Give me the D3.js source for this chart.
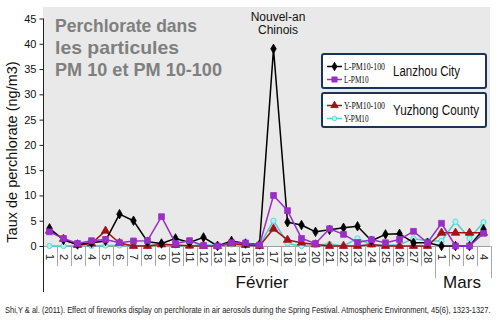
<!DOCTYPE html>
<html>
<head>
<meta charset="utf-8">
<script src="https://cdn.jsdelivr.net/npm/d3@7"></script>
<style>
  html, body { margin: 0; padding: 0; background: #fff; }
  svg { display: block; font-family: "Liberation Sans", Arial, sans-serif; }
</style>
</head>
<body>
<svg id="chart" width="500" height="326"></svg>
<script>
// Day labels along the horizontal axis (February 1-28, then March 1-4)
const dayLabels = ["1","2","3","4","5","6","7","8","9","10","11","12","13","14","15","16","17","18","19","20","21","22","23","24","25","26","27","28","1","2","3","4"];
const monthNames = ["Février", "Mars"];
const monthLengths = [28, 4];

// Perchlorate concentrations (ng/m3)
const lanzhouPM10_100 = [3.5,1.2,0.3,0.65,1.0,6.3,5.0,0.85,0.5,1.5,0.7,1.7,0.0,1.0,0.5,0.3,39.0,4.7,4.15,2.8,3.2,3.6,3.9,1.05,2.3,2.4,0.65,0.65,0.0,0.0,0.0,3.3];
const lanzhouPM10     = [2.8,1.5,0.5,1.05,1.3,0.65,1.0,1.05,5.8,0.5,1.05,0.1,0.0,0.65,0.6,0.2,10.0,7.0,1.5,0.5,3.4,2.3,0.7,1.25,0.65,1.3,2.9,0.65,4.5,0.0,0.0,2.5];
const yuzhongPM10_100 = [3.0,1.4,0.2,0.5,3.0,0.6,0.0,0.0,0.3,0.2,0.05,0.0,0.0,0.5,0.2,0.0,3.4,1.2,0.65,0.3,0.0,0.0,0.0,0.3,0.0,0.0,0.0,0.0,2.6,2.6,2.6,2.6];
const yuzhongPM10     = [0.0,0.0,0.1,0.0,0.1,0.1,0.1,0.0,0.5,0.1,0.0,0.3,0.0,0.3,0.1,0.1,5.0,0.5,0.0,0.2,0.4,0.0,1.5,0.2,0.2,0.2,1.5,1.0,1.0,4.8,1.5,4.7];

const yTicks = [0,5,10,15,20,25,30,35,40,45];

const series = [
  { name: "Y-PM10",     values: yuzhongPM10,     color: "#4fcfcf", fill: "#aef2f2", symbol: d3.symbolCircle,   size: 22 },
  { name: "Y-PM10-100", values: yuzhongPM10_100, color: "#a50f15", fill: "#a50f15", symbol: d3.symbolTriangle, size: 30 },
  { name: "L-PM10-100", values: lanzhouPM10_100, color: "#000000", fill: "#000000", symbol: d3.symbolDiamond,  size: 26 },
  { name: "L-PM10",     values: lanzhouPM10,     color: "#9a2ec8", fill: "#9a2ec8", symbol: d3.symbolSquare,   size: 34 }
];
const byName = Object.fromEntries(series.map(s => [s.name, s]));

const svg = d3.select("#chart");

const x = d3.scaleBand().domain(d3.range(dayLabels.length)).range([42.5, 490.5]).padding(0);
const y = d3.scaleLinear().domain([0, 45]).range([246, 18.5]);
const cx = i => x(i) + x.bandwidth() / 2;

// Plot background
svg.append("rect")
  .attr("x", 43).attr("y", 7).attr("width", 447).attr("height", 239)
  .attr("fill", "#e9e9e9");

// Zero baseline
svg.append("line")
  .attr("x1", 43.5).attr("x2", 490.5).attr("y1", y(0) + 0.5).attr("y2", y(0) + 0.5)
  .attr("stroke", "#a0a0a0").attr("stroke-width", 1);

// Category separators
const sepG = svg.append("g").attr("stroke", "#a8a8a8").attr("stroke-width", 1);
let boundary = 0;
const monthEnds = monthLengths.map(n => (boundary += n));
d3.range(1, dayLabels.length + 1).forEach(i => {
  const xx = Math.round(x(i - 1) + x.bandwidth()) + 0.5;
  const long = monthEnds.includes(i);
  sepG.append("line")
    .attr("x1", xx).attr("x2", xx)
    .attr("y1", y(0)).attr("y2", long ? 278 : 266);
});

// Day labels, rotated
svg.append("g").selectAll("text")
  .data(dayLabels)
  .join("text")
  .attr("transform", (d, i) => `translate(${cx(i)},257) rotate(90)`)
  .attr("text-anchor", "middle")
  .attr("dominant-baseline", "central")
  .attr("font-size", 11)
  .attr("fill", "#222")
  .text(d => d);

// Month labels
const monthCenters = [262, 462];
svg.append("g").selectAll("text")
  .data(monthNames)
  .join("text")
  .attr("x", (d, i) => monthCenters[i])
  .attr("y", 288)
  .attr("text-anchor", "middle")
  .attr("font-size", 17)
  .attr("fill", "#111")
  .text(d => d);

// Y axis
const yAxis = svg.append("g")
  .attr("transform", "translate(43.5,0)")
  .call(d3.axisLeft(y).tickValues(yTicks).tickSize(4).tickPadding(3));
yAxis.select(".domain").remove();
yAxis.selectAll(".tick line").attr("stroke", "#222");
yAxis.selectAll(".tick text").attr("font-size", 11).attr("fill", "#111")
  .attr("font-family", "'Liberation Sans', Arial, sans-serif");
svg.append("line")
  .attr("x1", 43.5).attr("x2", 43.5).attr("y1", y(45)).attr("y2", 292)
  .attr("stroke", "#222").attr("stroke-width", 1);

// Y axis title
svg.append("text")
  .attr("transform", "translate(17,152) rotate(-90)")
  .attr("text-anchor", "middle")
  .attr("font-size", 14.5)
  .attr("fill", "#111")
  .text("Taux de perchlorate (ng/m3)");

// Series lines and markers
const line = d3.line().x((d, i) => cx(i)).y(d => y(d));
series.forEach(s => {
  const g = svg.append("g");
  g.append("path")
    .attr("d", line(s.values))
    .attr("fill", "none")
    .attr("stroke", s.color)
    .attr("stroke-width", 1.5)
    .attr("stroke-linejoin", "round");
  g.selectAll("path.m")
    .data(s.values)
    .join("path")
    .attr("class", "m")
    .attr("transform", (d, i) => `translate(${cx(i)},${y(d)})`)
    .attr("d", d3.symbol().type(s.symbol).size(s.size))
    .attr("fill", s.fill)
    .attr("stroke", s.color)
    .attr("stroke-width", 0.8);
});

// Title block
const titleLines = ["Perchlorate dans", "les particules", "PM 10 et PM 10-100"];
const titleWidths = [142, 124, 167];
svg.append("g").selectAll("text")
  .data(titleLines)
  .join("text")
  .attr("x", 55)
  .attr("y", (d, i) => 32 + i * 22)
  .attr("font-size", 19)
  .attr("font-weight", "bold")
  .attr("fill", "#7f7f7f")
  .attr("textLength", (d, i) => titleWidths[i])
  .attr("lengthAdjust", "spacingAndGlyphs")
  .text(d => d);

// Annotation above the peak
const note = ["Nouvel-an", "Chinois"];
svg.append("g").selectAll("text")
  .data(note)
  .join("text")
  .attr("x", 278)
  .attr("y", (d, i) => 21 + i * 13)
  .attr("text-anchor", "middle")
  .attr("font-size", 12)
  .attr("fill", "#111")
  .text(d => d);

// Legend boxes
const legendGroups = [
  { title: "Lanzhou City",   titleW: 67, entries: ["L-PM10-100", "L-PM10"],  y0: 54 },
  { title: "Yuzhong County", titleW: 86, entries: ["Y-PM10-100", "Y-PM10"],  y0: 93 }
];
legendGroups.forEach(lg => {
  const g = svg.append("g");
  g.append("rect")
    .attr("x", 322).attr("y", lg.y0).attr("width", 164).attr("height", 34)
    .attr("rx", 2)
    .attr("fill", "#fff").attr("stroke", "#1c3557").attr("stroke-width", 2);
  lg.entries.forEach((name, k) => {
    const s = byName[name];
    const yy = lg.y0 + 12.5 + k * 13;
    g.append("line")
      .attr("x1", 327).attr("x2", 342).attr("y1", yy).attr("y2", yy)
      .attr("stroke", s.color).attr("stroke-width", 1.5);
    g.append("path")
      .attr("transform", `translate(334.5,${yy})`)
      .attr("d", d3.symbol().type(s.symbol).size(s.size * 0.8))
      .attr("fill", s.fill).attr("stroke", s.color).attr("stroke-width", 0.8);
    g.append("text")
      .attr("x", 344).attr("y", yy + 3.5)
      .attr("font-family", "'Liberation Serif', 'DejaVu Serif', serif")
      .attr("font-size", 10)
      .attr("fill", "#111")
      .attr("textLength", name.length * 4.1)
      .attr("lengthAdjust", "spacingAndGlyphs")
      .text(name);
  });
  g.append("text")
    .attr("x", 393).attr("y", lg.y0 + 22)
    .attr("font-size", 14)
    .attr("fill", "#111")
    .attr("textLength", lg.titleW)
    .attr("lengthAdjust", "spacingAndGlyphs")
    .text(lg.title);
});

// Source reference, squeezed horizontally to span the page width
const source = svg.append("text")
  .attr("x", 0).attr("y", 0)
  .attr("font-size", 9.5)
  .attr("fill", "#222")
  .text("Shi,Y & al. (2011). Effect of fireworks display on perchlorate in air aerosols during the Spring Festival. Atmospheric Environment, 45(6), 1323-1327.");
const naturalW = source.node().getComputedTextLength();
source.attr("transform", `translate(5,313) scale(${486 / naturalW},1)`);
</script>
</body>
</html>
